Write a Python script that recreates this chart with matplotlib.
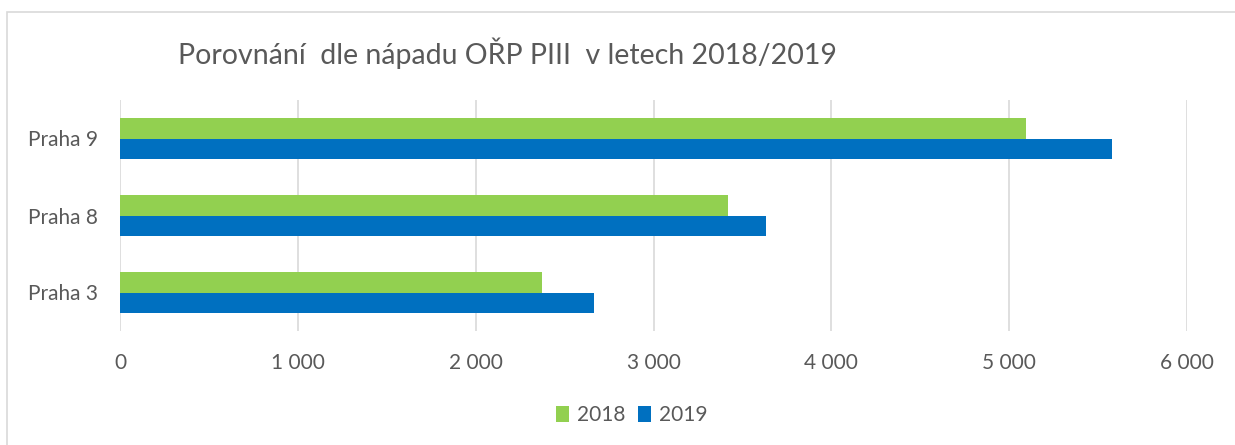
import numpy as np
import matplotlib.pyplot as plt
from matplotlib.patches import Rectangle
from matplotlib.ticker import FuncFormatter

categories = ['Praha 3', 'Praha 8', 'Praha 9']
values_2018 = [2375, 3420, 5094]
values_2019 = [2668, 3634, 5577]
series_labels = ['2018', '2019']

plt.rcParams['font.family'] = ['Lato', 'DejaVu Sans']
text_color = '#595959'

fig = plt.figure(figsize=(12.35, 4.45), dpi=100)
W, H = 1235, 445
ax = fig.add_axes([120 / W, 1 - 331 / H, (1187 - 120) / W, (331 - 100) / H])

# outer chart border
fig.patches.append(Rectangle((7 / W, -0.1), 1.2, 1 - 11.5 / H + 0.1, transform=fig.transFigure,
                             fill=False, edgecolor='#D9D9D9', linewidth=1.2))

y = np.arange(len(categories))
h = 0.26
ax.barh(y + h / 2, values_2018, height=h, color='#92D050', label=series_labels[0])
ax.barh(y - h / 2, values_2019, height=h, color='#0070C0', label=series_labels[1])

ax.set_xlim(0, 6000)
ax.set_ylim(-0.5, len(categories) - 0.5)
ax.set_xticks(np.arange(0, 6001, 1000))
ax.xaxis.set_major_formatter(FuncFormatter(lambda v, p: f'{int(v):,}'.replace(',', ' ')))
ax.set_yticks(y)
ax.set_yticklabels(categories)
ax.grid(axis='x', color='#D9D9D9', linewidth=1.2)
ax.set_axisbelow(True)
for s in ax.spines.values():
    s.set_visible(False)
ax.tick_params(length=0, labelsize=15, labelcolor=text_color)
ax.tick_params(axis='x', pad=16)
ax.tick_params(axis='y', pad=16)

fig.text(507 / W, 1 - 53 / H, 'Porovnání  dle nápadu OŘP PIII  v letech 2018/2019',
         ha='center', va='center', fontsize=20.5, color=text_color)

fig.legend(loc='center', bbox_to_anchor=(632 / W, 1 - 415 / H), ncol=2, frameon=False,
           fontsize=15, labelcolor=text_color, handlelength=0.6, handleheight=0.8,
           handletextpad=0.4, columnspacing=0.6)

fig.savefig('out.png', dpi=100)
